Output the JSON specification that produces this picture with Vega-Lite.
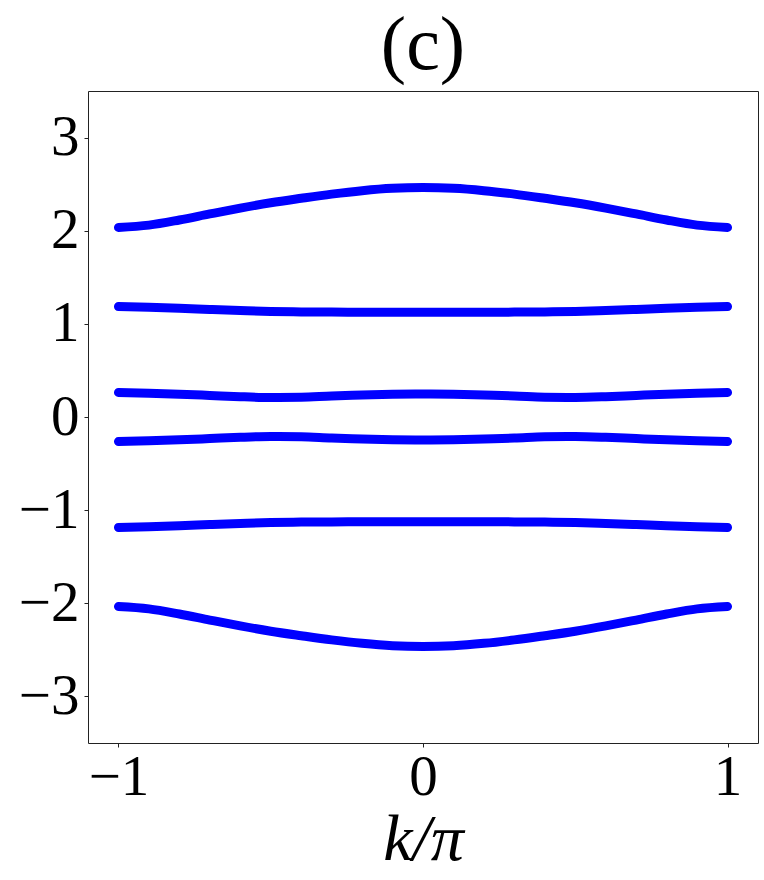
{
  "$schema": "https://vega.github.io/schema/vega-lite/v6.json",
  "width": 670,
  "height": 652,
  "autosize": "none",
  "padding": {"left": 88, "top": 91, "right": 6, "bottom": 137},
  "background": "white",
  "title": {"text": "(c)", "font": "Liberation Serif", "fontSize": 76, "fontWeight": "normal", "color": "black", "offset": 6, "anchor": "middle"},
  "config": {
    "view": {"stroke": "#222", "strokeWidth": 1},
    "axis": {"grid": false, "domain": false, "ticks": true, "tickColor": "#222", "tickSize": 4, "labelFont": "Liberation Serif", "labelFontSize": 57, "labelColor": "black", "titleFont": "Liberation Serif", "titleColor": "black"}
  },
  "data": {"values": [
    {"k": -1.0, "E": 2.035, "band": 1}, {"k": -0.9, "E": 2.06, "band": 1}, {"k": -0.8, "E": 2.115, "band": 1}, {"k": -0.7, "E": 2.18, "band": 1}, {"k": -0.6, "E": 2.243, "band": 1}, {"k": -0.5, "E": 2.3, "band": 1}, {"k": -0.4, "E": 2.348, "band": 1}, {"k": -0.3, "E": 2.393, "band": 1}, {"k": -0.2, "E": 2.43, "band": 1}, {"k": -0.1, "E": 2.455, "band": 1}, {"k": 0.0, "E": 2.463, "band": 1}, {"k": 0.1, "E": 2.455, "band": 1}, {"k": 0.2, "E": 2.43, "band": 1}, {"k": 0.3, "E": 2.393, "band": 1}, {"k": 0.4, "E": 2.348, "band": 1}, {"k": 0.5, "E": 2.3, "band": 1}, {"k": 0.6, "E": 2.243, "band": 1}, {"k": 0.7, "E": 2.18, "band": 1}, {"k": 0.8, "E": 2.115, "band": 1}, {"k": 0.9, "E": 2.06, "band": 1}, {"k": 1.0, "E": 2.035, "band": 1},
    {"k": -1.0, "E": 1.186, "band": 2}, {"k": -0.9, "E": 1.178, "band": 2}, {"k": -0.8, "E": 1.167, "band": 2}, {"k": -0.7, "E": 1.155, "band": 2}, {"k": -0.6, "E": 1.143, "band": 2}, {"k": -0.5, "E": 1.133, "band": 2}, {"k": -0.4, "E": 1.128, "band": 2}, {"k": -0.3, "E": 1.126, "band": 2}, {"k": -0.2, "E": 1.125, "band": 2}, {"k": -0.1, "E": 1.125, "band": 2}, {"k": 0.0, "E": 1.125, "band": 2}, {"k": 0.1, "E": 1.125, "band": 2}, {"k": 0.2, "E": 1.125, "band": 2}, {"k": 0.3, "E": 1.126, "band": 2}, {"k": 0.4, "E": 1.128, "band": 2}, {"k": 0.5, "E": 1.133, "band": 2}, {"k": 0.6, "E": 1.143, "band": 2}, {"k": 0.7, "E": 1.155, "band": 2}, {"k": 0.8, "E": 1.167, "band": 2}, {"k": 0.9, "E": 1.178, "band": 2}, {"k": 1.0, "E": 1.186, "band": 2},
    {"k": -1.0, "E": 0.263, "band": 3}, {"k": -0.9, "E": 0.256, "band": 3}, {"k": -0.8, "E": 0.245, "band": 3}, {"k": -0.7, "E": 0.232, "band": 3}, {"k": -0.6, "E": 0.218, "band": 3}, {"k": -0.5, "E": 0.21, "band": 3}, {"k": -0.4, "E": 0.213, "band": 3}, {"k": -0.3, "E": 0.226, "band": 3}, {"k": -0.2, "E": 0.235, "band": 3}, {"k": -0.1, "E": 0.243, "band": 3}, {"k": 0.0, "E": 0.246, "band": 3}, {"k": 0.1, "E": 0.243, "band": 3}, {"k": 0.2, "E": 0.235, "band": 3}, {"k": 0.3, "E": 0.226, "band": 3}, {"k": 0.4, "E": 0.213, "band": 3}, {"k": 0.5, "E": 0.21, "band": 3}, {"k": 0.6, "E": 0.218, "band": 3}, {"k": 0.7, "E": 0.232, "band": 3}, {"k": 0.8, "E": 0.245, "band": 3}, {"k": 0.9, "E": 0.256, "band": 3}, {"k": 1.0, "E": 0.263, "band": 3},
    {"k": -1.0, "E": -0.263, "band": 4}, {"k": -0.9, "E": -0.256, "band": 4}, {"k": -0.8, "E": -0.245, "band": 4}, {"k": -0.7, "E": -0.232, "band": 4}, {"k": -0.6, "E": -0.218, "band": 4}, {"k": -0.5, "E": -0.21, "band": 4}, {"k": -0.4, "E": -0.213, "band": 4}, {"k": -0.3, "E": -0.226, "band": 4}, {"k": -0.2, "E": -0.235, "band": 4}, {"k": -0.1, "E": -0.243, "band": 4}, {"k": 0.0, "E": -0.246, "band": 4}, {"k": 0.1, "E": -0.243, "band": 4}, {"k": 0.2, "E": -0.235, "band": 4}, {"k": 0.3, "E": -0.226, "band": 4}, {"k": 0.4, "E": -0.213, "band": 4}, {"k": 0.5, "E": -0.21, "band": 4}, {"k": 0.6, "E": -0.218, "band": 4}, {"k": 0.7, "E": -0.232, "band": 4}, {"k": 0.8, "E": -0.245, "band": 4}, {"k": 0.9, "E": -0.256, "band": 4}, {"k": 1.0, "E": -0.263, "band": 4},
    {"k": -1.0, "E": -1.186, "band": 5}, {"k": -0.9, "E": -1.178, "band": 5}, {"k": -0.8, "E": -1.167, "band": 5}, {"k": -0.7, "E": -1.155, "band": 5}, {"k": -0.6, "E": -1.143, "band": 5}, {"k": -0.5, "E": -1.133, "band": 5}, {"k": -0.4, "E": -1.128, "band": 5}, {"k": -0.3, "E": -1.126, "band": 5}, {"k": -0.2, "E": -1.125, "band": 5}, {"k": -0.1, "E": -1.125, "band": 5}, {"k": 0.0, "E": -1.125, "band": 5}, {"k": 0.1, "E": -1.125, "band": 5}, {"k": 0.2, "E": -1.125, "band": 5}, {"k": 0.3, "E": -1.126, "band": 5}, {"k": 0.4, "E": -1.128, "band": 5}, {"k": 0.5, "E": -1.133, "band": 5}, {"k": 0.6, "E": -1.143, "band": 5}, {"k": 0.7, "E": -1.155, "band": 5}, {"k": 0.8, "E": -1.167, "band": 5}, {"k": 0.9, "E": -1.178, "band": 5}, {"k": 1.0, "E": -1.186, "band": 5},
    {"k": -1.0, "E": -2.035, "band": 6}, {"k": -0.9, "E": -2.06, "band": 6}, {"k": -0.8, "E": -2.115, "band": 6}, {"k": -0.7, "E": -2.18, "band": 6}, {"k": -0.6, "E": -2.243, "band": 6}, {"k": -0.5, "E": -2.3, "band": 6}, {"k": -0.4, "E": -2.348, "band": 6}, {"k": -0.3, "E": -2.393, "band": 6}, {"k": -0.2, "E": -2.43, "band": 6}, {"k": -0.1, "E": -2.455, "band": 6}, {"k": 0.0, "E": -2.463, "band": 6}, {"k": 0.1, "E": -2.455, "band": 6}, {"k": 0.2, "E": -2.43, "band": 6}, {"k": 0.3, "E": -2.393, "band": 6}, {"k": 0.4, "E": -2.348, "band": 6}, {"k": 0.5, "E": -2.3, "band": 6}, {"k": 0.6, "E": -2.243, "band": 6}, {"k": 0.7, "E": -2.18, "band": 6}, {"k": 0.8, "E": -2.115, "band": 6}, {"k": 0.9, "E": -2.06, "band": 6}, {"k": 1.0, "E": -2.035, "band": 6}
  ]},
  "mark": {"type": "line", "color": "#0000ff", "strokeWidth": 9, "strokeCap": "round", "strokeJoin": "round", "interpolate": "monotone", "clip": true},
  "encoding": {
    "x": {"field": "k", "type": "quantitative", "scale": {"domain": [-1.1, 1.1], "nice": false, "zero": false},
      "axis": {"values": [-1, 0, 1], "labelPadding": 2, "title": "k/π", "titleFontSize": 66, "titleFontStyle": "italic", "titleFontWeight": "normal", "titlePadding": 2}},
    "y": {"field": "E", "type": "quantitative", "scale": {"domain": [-3.5, 3.5], "nice": false, "zero": false},
      "axis": {"values": [-3, -2, -1, 0, 1, 2, 3], "labelPadding": 5, "title": null}},
    "detail": {"field": "band", "type": "nominal"}
  }
}
